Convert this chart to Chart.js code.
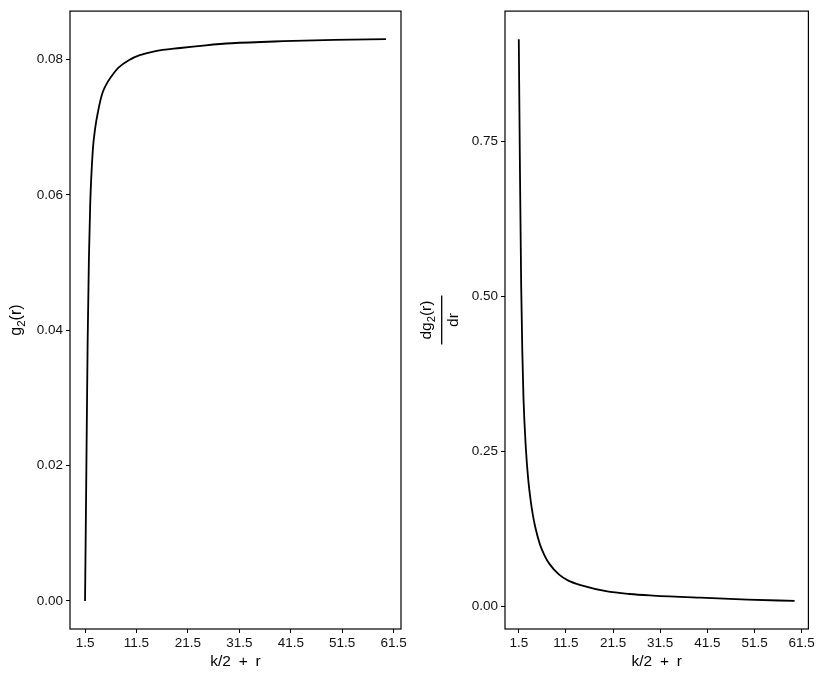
<!DOCTYPE html>
<html>
<head>
<meta charset="utf-8">
<script src="https://cdn.jsdelivr.net/npm/chart.js@4.4.1/dist/chart.umd.min.js"></script>
<style>
    html, body { margin: 0; padding: 0; background: #fff; }
    #wrap { position: relative; width: 817px; height: 679px; }
    canvas { position: absolute; top: 0; }
</style>
</head>
<body>
<div id="wrap">
    <canvas id="g2Chart" width="410" height="679" style="left:0"></canvas>
    <canvas id="dg2Chart" width="407" height="679" style="left:410px"></canvas>
</div>
<script>
// valores (k/2 + r)
const kr = [1.5, 1.75, 2, 2.25, 2.5, 3, 3.5, 4, 4.5, 5, 6, 7, 8, 10, 12, 15, 20, 25, 30, 40, 50, 60];
const g2 = [0, 0.019, 0.038, 0.0505, 0.0585, 0.0665, 0.0700, 0.0722, 0.074, 0.0753, 0.0768, 0.0779, 0.0788,
            0.0799, 0.0806, 0.0812, 0.0817, 0.0821, 0.0824, 0.0827, 0.0829, 0.083];
const dg2 = [0.914, 0.70, 0.52, 0.41, 0.335, 0.255, 0.205, 0.172, 0.147, 0.128, 0.100, 0.082, 0.069,
             0.052, 0.042, 0.034, 0.025, 0.0205, 0.018, 0.0145, 0.0115, 0.0093];

const xTicks = [1.5, 11.5, 21.5, 31.5, 41.5, 51.5, 61.5];
const g2Ticks = [0, 0.02, 0.04, 0.06, 0.08];
const dg2Ticks = [0, 0.25, 0.5, 0.75];

const FONT = 'Liberation Sans, Arial, Helvetica, sans-serif';
const TITLE_SIZE = 15.5;

// desenha texto com subscrito (partes: [texto, subscrito?])
function richWidth(ctx, parts, size) {
    let w = 0;
    parts.forEach(p => {
        ctx.font = (p[1] ? size * 0.72 : size) + 'px ' + FONT;
        w += ctx.measureText(p[0]).width;
    });
    return w;
}
function drawRich(ctx, parts, x, y, size) {
    let w = richWidth(ctx, parts, size);
    let cx = x - w / 2;
    parts.forEach(p => {
        const s = p[1] ? size * 0.72 : size;
        ctx.font = s + 'px ' + FONT;
        ctx.fillText(p[0], cx, y + (p[1] ? size * 0.28 : 0));
        cx += ctx.measureText(p[0]).width;
    });
}

// moldura do painel + títulos dos eixos
const panelPlugin = {
    id: 'panel',
    afterDraw(chart, args, opts) {
        const ctx = chart.ctx;
        const a = chart.chartArea;
        ctx.save();
        ctx.strokeStyle = '#000';
        ctx.lineWidth = 1.2;
        ctx.strokeRect(a.left, a.top, a.right - a.left, a.bottom - a.top);

        ctx.fillStyle = '#000';
        ctx.textAlign = 'left';
        ctx.textBaseline = 'alphabetic';
        // título do eixo x
        ctx.font = TITLE_SIZE + 'px ' + FONT;
        const xt = 'k/2\u2002+\u2002r';
        const tw = ctx.measureText(xt).width;
        ctx.fillText(xt, (a.left + a.right) / 2 - tw / 2, 666);

        // título do eixo y (rotacionado)
        const cy = (a.top + a.bottom) / 2;
        if (opts.kind === 'g2') {
            ctx.save();
            ctx.translate(21, cy);
            ctx.rotate(-Math.PI / 2);
            drawRich(ctx, [['g'], ['2', true], ['(r)']], 0, 0, TITLE_SIZE + 0.5);
            ctx.restore();
        } else {
            const bx = 441.7 - 410;
            ctx.save();
            ctx.translate(bx, cy);
            ctx.rotate(-Math.PI / 2);
            drawRich(ctx, [['dg'], ['2', true], ['(r)']], 0, 430.5 - 441.7, TITLE_SIZE);
            drawRich(ctx, [['dr']], 0, 457.7 - 441.7, TITLE_SIZE);
            ctx.strokeStyle = '#000';
            ctx.lineWidth = 1.3;
            ctx.beginPath();
            ctx.moveTo(-24.5, 0);
            ctx.lineTo(24.5, 0);
            ctx.stroke();
            ctx.restore();
        }
        ctx.restore();
    }
};

function makeChart(id, yData, yTicks, yMin, yMax, yWidth, padRight, kind) {
    const ctx = document.getElementById(id).getContext('2d');
    return new Chart(ctx, {
        type: 'line',
        data: {
            datasets: [{
                data: kr.map((x, i) => ({ x: x, y: yData[i] })),
                borderColor: '#000',
                borderWidth: 1.8,
                pointRadius: 0,
                fill: false,
                cubicInterpolationMode: 'monotone'
            }]
        },
        plugins: [panelPlugin],
        options: {
            responsive: false,
            animation: false,
            devicePixelRatio: 1,
            layout: { padding: { top: 7, right: padRight, left: 0, bottom: 0 } },
            plugins: {
                legend: { display: false },
                tooltip: { enabled: false },
                panel: { kind: kind }
            },
            scales: {
                x: {
                    type: 'linear',
                    min: -1.425,
                    max: 62.925,
                    afterBuildTicks: s => { s.ticks = xTicks.map(v => ({ value: v })); },
                    afterFit: s => { s.height = 50; },
                    border: { display: false },
                    grid: { drawOnChartArea: false, drawTicks: true, tickLength: 4, color: '#000', lineWidth: 1 },
                    ticks: {
                        padding: 2,
                        maxRotation: 0,
                        color: '#111',
                        font: { family: FONT, size: 13.5 },
                        callback: v => v.toFixed(1)
                    }
                },
                y: {
                    type: 'linear',
                    min: yMin,
                    max: yMax,
                    afterBuildTicks: s => { s.ticks = yTicks.map(v => ({ value: v })); },
                    afterFit: s => { s.width = yWidth; },
                    border: { display: false },
                    grid: { drawOnChartArea: false, drawTicks: true, tickLength: 4, color: '#000', lineWidth: 1 },
                    ticks: {
                        padding: 3,
                        color: '#111',
                        font: { family: FONT, size: 13.5 },
                        callback: v => v.toFixed(2)
                    }
                }
            }
        }
    });
}

window.onload = () => {
    makeChart('g2Chart', g2, g2Ticks, -0.00415, 0.08715, 70, 9, 'g2');
    makeChart('dg2Chart', dg2, dg2Ticks, -0.0359, 0.9592, 95, 8, 'dg2');
};
</script>
</body>
</html>
